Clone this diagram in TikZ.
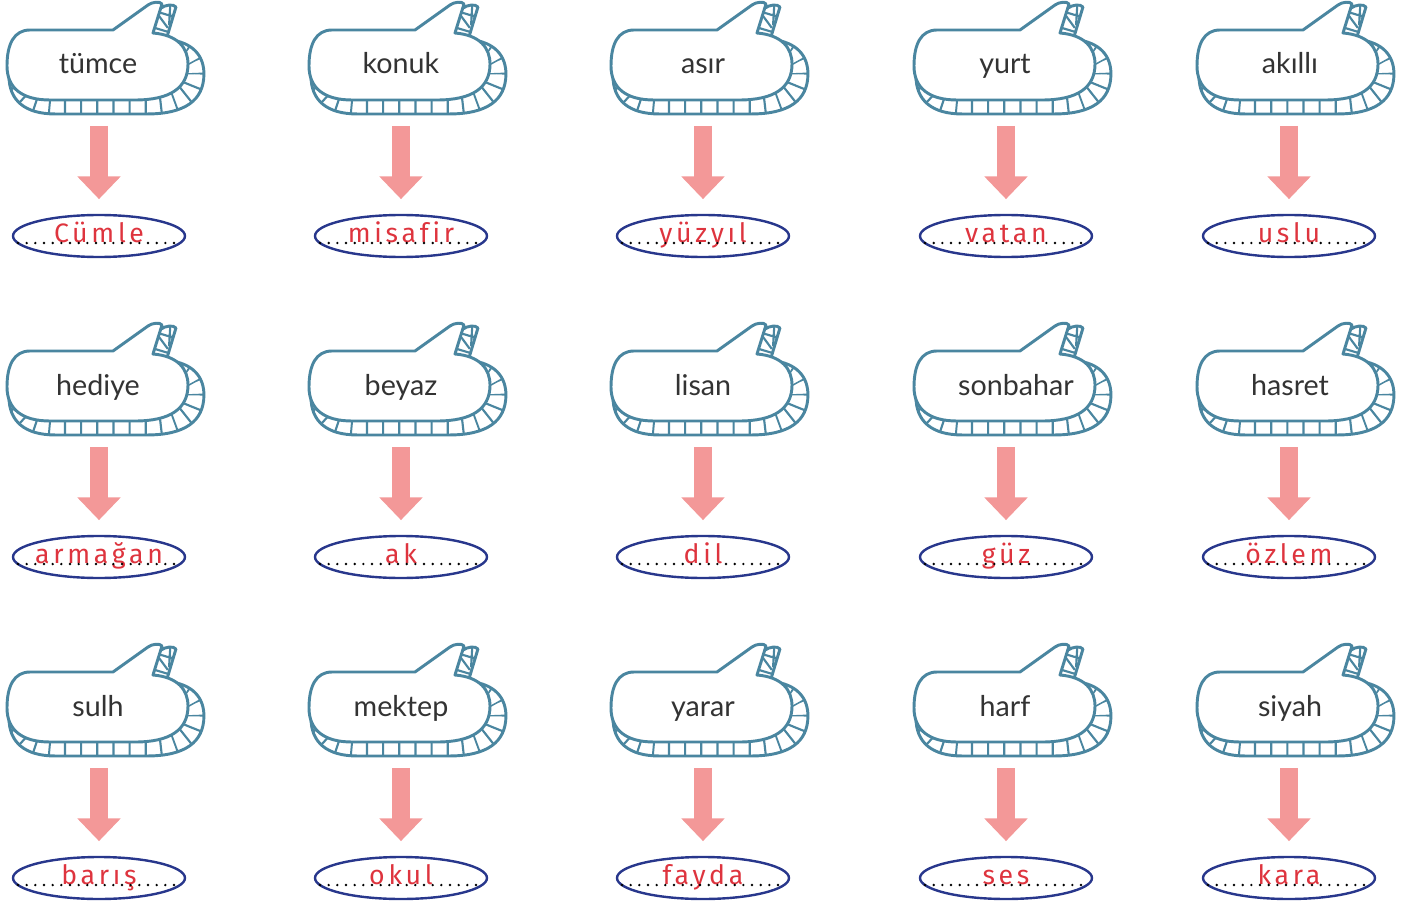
\documentclass[tikz,border=0pt]{standalone}
\usepackage{fontspec}
\setmainfont{Lato}
\newfontfamily\handfont[LetterSpace=14,Ligatures=NoCommon]{Fira Sans}
\usetikzlibrary{shapes.geometric,arrows.meta}

\definecolor{bubblecol}{RGB}{74,134,160}
\definecolor{arrowcol}{RGB}{243,152,152}
\definecolor{ovalcol}{RGB}{40,55,140}
\definecolor{inkcol}{RGB}{222,52,62}

\tikzset{every picture/.style={line width=0.75pt}}
\tikzset{
  backface/.style={draw=bubblecol,line width=2.2pt,line join=round},
  frontface/.style={draw=bubblecol,fill=white,line width=2.2pt,line join=round},
  ribs/.style={draw=bubblecol,line width=30pt,dash pattern=on 1.6pt off 10.5pt},
  word/.style={font=\fontsize{21.5}{24}\selectfont,text=black!80,inner sep=0.75pt,anchor=base},
  answer/.style={ellipse,draw=ovalcol,line width=1.8pt,minimum width=129pt,minimum height=31.5pt,inner sep=0pt,text height=12pt,text depth=3pt,font=\handfont\fontsize{20}{22}\selectfont,text=inkcol},
  dots/.style={line width=2pt,line cap=round,dash pattern=on 0pt off 6.5pt},
  downarrow/.style={draw=arrowcol,line width=13.5pt,shorten >=11pt,-{Triangle[width=31.5pt,length=17pt]}}
}

% outline of one speech bubble, top left of the body at about (7,30)
\newcommand\bubblepath{(30,30) -- (113,30) -- (148,5) .. controls (152,2) and (160,1) .. (162,4) -- (153,33) .. controls (178,35) and (188,48) .. (188,64) .. controls (188,88) and (170,100) .. (135,100) -- (50,100) .. controls (22,100) and (7,88) .. (7,66) .. controls (7,44) and (14,30) .. (30,30) -- cycle}

\begin{document}
\begin{tikzpicture}[x=0.75pt,y=0.75pt,yscale=-1,xscale=1]
	\useasboundingbox (0,0) rectangle (1424,913);

	\foreach \ox/\oy/\n/\lx/\lbl/\ans in {
		0/0/1/98/tümce/Cümle, 302/0/2/99/konuk/misafir, 604/0/3/99/asır/yüzyıl, 907/0/4/98/yurt/vatan, 1190/0/5/100/akıllı/uslu,
		0/321/6/98/hediye/armağan, 302/321/7/99/beyaz/ak, 604/321/8/99/lisan/dil, 907/321/9/109/sonbahar/güz, 1190/321/10/100/hasret/özlem,
		0/642/11/98/sulh/barış, 302/642/12/99/mektep/okul, 604/642/13/99/yarar/fayda, 907/642/14/98/harf/ses, 1190/642/15/100/siyah/kara}
	{
		%Shape: Speech Bubble
		\begin{scope}[shift={(\ox,\oy)}]
			\begin{scope}[shift={(9,36)},xscale=1.077,yscale=1.114,shift={(-7,-30)}]
				\fill[white] \bubblepath;
				\begin{scope}
					\clip \bubblepath;
					\draw[ribs] \bubblepath;
				\end{scope}
				\draw[backface] \bubblepath;
			\end{scope}
			\draw[frontface] \bubblepath;
		\end{scope}

		% Text Node
		\node[word] (w\n) at (\ox+\lx,\oy+74) {\lbl};
		% Answer Oval
		\node[answer] (a\n) at (\ox+99,\oy+236) {\makebox[0pt]{\ans}};
		\coordinate (t\n) at (\ox+99,\oy+126);
		\coordinate (d\n) at (\ox+18,\oy+243);
		\coordinate (e\n) at (\ox+180,\oy+243);
		%Straight Lines
		\draw[dots] (d\n) -- (e\n);
		%Block Arrow
		\draw[downarrow] (t\n) -- (a\n);
	}

\end{tikzpicture}
\end{document}
